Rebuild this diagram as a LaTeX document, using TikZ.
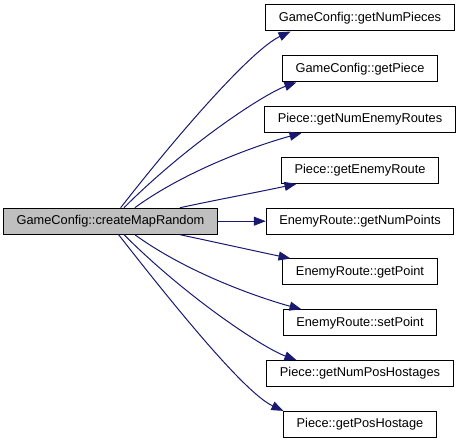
\documentclass[tikz,border=0pt]{standalone}
\usepackage{fontspec}
\setmainfont{Liberation Sans}
\usetikzlibrary{arrows.meta}

\begin{document}
\begin{tikzpicture}[x=1pt,y=1pt,>={Triangle[length=12pt,width=9pt]},
  font=\fontsize{12.8}{15}\selectfont,
  fn/.style={draw=black,line width=1pt,inner xsep=13pt,inner ysep=0pt,minimum height=26pt},
  call/.style={->,draw=edgecolor,line width=1pt}]
\definecolor{edgecolor}{RGB}{25,25,112}
\definecolor{srcfill}{RGB}{191,191,191}

% Fixed frame: the call graph is 461 x 443 units.
\useasboundingbox (0,0) rectangle (461,-443);

% Caller on the left.
\node[fn,fill=srcfill] (cmr) at (110.5,-221.2) {GameConfig::createMapRandom};

% Callees in one column, centered on x=360.
\node[fn] (numpieces)   at (360,-18)    {GameConfig::getNumPieces};
\node[fn] (piece)       at (360,-68.8)  {GameConfig::getPiece};
\node[fn] (numroutes)   at (360,-119.6) {Piece::getNumEnemyRoutes};
\node[fn] (route)       at (360,-170.4) {Piece::getEnemyRoute};
\node[fn] (numpoints)   at (360,-221.2) {EnemyRoute::getNumPoints};
\node[fn] (getpoint)    at (360,-272)   {EnemyRoute::getPoint};
\node[fn] (setpoint)    at (360,-322.8) {EnemyRoute::setPoint};
\node[fn] (numhostages) at (360,-373.6) {Piece::getNumPosHostages};
\node[fn] (hostage)     at (360,-424.4) {Piece::getPosHostage};

% Calls, fanning out from the top and bottom of the caller.
\draw[call] (cmr.53) to[out=52,in=205,out distance=110pt,in distance=40pt] (numpieces.191);
\draw[call] (cmr.45) to[out=45,in=200,out distance=90pt,in distance=35pt] (piece.192);
\draw[call] (cmr.29) to[out=36,in=195,out distance=70pt,in distance=35pt] (numroutes.193);
\draw[call] (cmr.11) to[out=12,in=192] (route.192);
\draw[call] (cmr.east) -- (numpoints.west);
\draw[call] (cmr.-11) to[out=-12,in=168] (getpoint.169);
\draw[call] (cmr.-29) to[out=-36,in=165,out distance=70pt,in distance=35pt] (setpoint.167);
\draw[call] (cmr.-45) to[out=-45,in=160,out distance=90pt,in distance=35pt] (numhostages.168);
\draw[call] (cmr.-59) to[out=-52,in=155,out distance=110pt,in distance=40pt] (hostage.170);
\end{tikzpicture}
\end{document}
